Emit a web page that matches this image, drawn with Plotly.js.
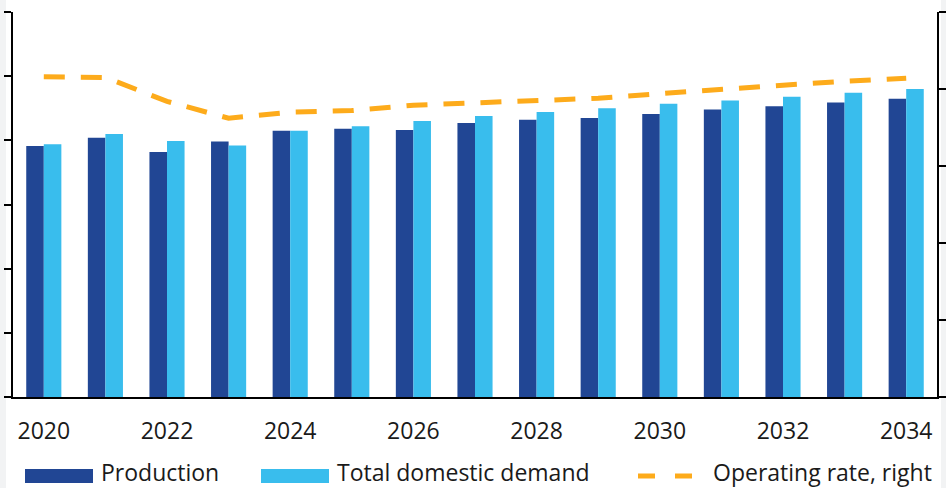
<!DOCTYPE html>
<html>
<head>
<meta charset="utf-8">
<script src="https://cdn.plot.ly/plotly-3.0.1.min.js"></script>
<style>html,body{margin:0;padding:0;background:#fff;}#chart{width:946px;height:488px;}</style>
</head>
<body>
<div id="chart"></div>
<script>
const years = [2020,2021,2022,2023,2024,2025,2026,2027,2028,2029,2030,2031,2032,2033,2034];
const production = [39.1,40.4,38.2,39.8,41.5,41.8,41.6,42.7,43.2,43.5,44.1,44.8,45.3,45.9,46.5];
const demand = [39.4,41.0,39.9,39.2,41.5,42.2,43.0,43.8,44.4,45.0,45.7,46.2,46.8,47.4,48.0];
const operatingRate = [91.6,91.5,88.4,86.2,87.0,87.2,87.9,88.2,88.6,88.8,89.4,90.0,90.5,91.0,91.4];
const tickYears = [2020,2022,2024,2026,2028,2030,2032,2034];
const seriesNames = ["Production","Total domestic demand","Operating rate, right"];
const colors = ["#214694","#39bded","#fdab1b"];

const W = 946, H = 488, L = 13, R = 9, T = 12, B = 91;
const pw = W - L - R, ph = H - T - B;
const px = x => (x - L) / pw;
const py = y => (H - B - y) / ph;

const traces = [
  {type:'bar', x: years, y: production, name: seriesNames[0], marker:{color: colors[0]}, showlegend:false},
  {type:'bar', x: years, y: demand, name: seriesNames[1], marker:{color: colors[1]}, showlegend:false},
  {type:'scatter', mode:'lines', x: years, y: operatingRate, name: seriesNames[2], yaxis:'y2',
   line:{color: colors[2], width:5, dash:'21px,16px'}, showlegend:false}
];

const font = {family:'"Open Sans", sans-serif', color:'#1a1a1a'};
const shapes = [
  {type:'rect', xref:'paper', yref:'paper', x0:px(0), x1:px(6), y0:py(H), y1:py(0), fillcolor:'#f2f3f4', line:{width:0}, layer:'below'},
  {type:'rect', xref:'paper', yref:'paper', x0:px(941), x1:px(946), y0:py(H), y1:py(0), fillcolor:'#f2f3f4', line:{width:0}, layer:'below'},
  // legend swatches
  {type:'rect', xref:'paper', yref:'paper', x0:px(25), x1:px(93), y0:py(483), y1:py(469), fillcolor:colors[0], line:{width:0}},
  {type:'rect', xref:'paper', yref:'paper', x0:px(261), x1:px(329), y0:py(483), y1:py(469), fillcolor:colors[1], line:{width:0}},
  {type:'line', xref:'paper', yref:'paper', x0:px(638), x1:px(655), y0:py(476), y1:py(476), line:{color:colors[2], width:5}},
  {type:'line', xref:'paper', yref:'paper', x0:px(675), x1:px(692), y0:py(476), y1:py(476), line:{color:colors[2], width:5}}
];
const legendX = [100, 336, 712];
const annotations = seriesNames.map((n,i) => ({
  xref:'paper', yref:'paper', x:px(legendX[i]), y:py(471.5), xanchor:'left', yanchor:'middle',
  text:n, showarrow:false, borderpad:0, font:Object.assign({size:23}, font)
}));

const axisStyle = {showgrid:false, zeroline:false, showline:true, linecolor:'#000', linewidth:2,
  ticks:'outside', ticklen:7, tickwidth:2, tickcolor:'#000', showticklabels:false};

const layout = {
  width:W, height:H, margin:{l:L, r:R, t:T, b:B},
  paper_bgcolor:'#fff', plot_bgcolor:'#fff',
  font: font,
  barmode:'group', bargap:0.43, bargroupgap:0,
  xaxis:{range:[2019.5,2034.5], tickvals:tickYears, ticktext:tickYears.map(String), ticks:'',
    showline:true, linecolor:'#000', linewidth:2, showgrid:false, zeroline:false,
    ticklabelstandoff:12,
    tickfont:Object.assign({size:23}, font)},
  yaxis:Object.assign({range:[0,60], dtick:10, tick0:0}, axisStyle),
  yaxis2:Object.assign({range:[50,100], dtick:10, tick0:50, overlaying:'y', side:'right'}, axisStyle),
  shapes: shapes,
  annotations: annotations,
  showlegend:false
};
Plotly.newPlot('chart', traces, layout, {staticPlot:true, displayModeBar:false});
</script>
</body>
</html>
